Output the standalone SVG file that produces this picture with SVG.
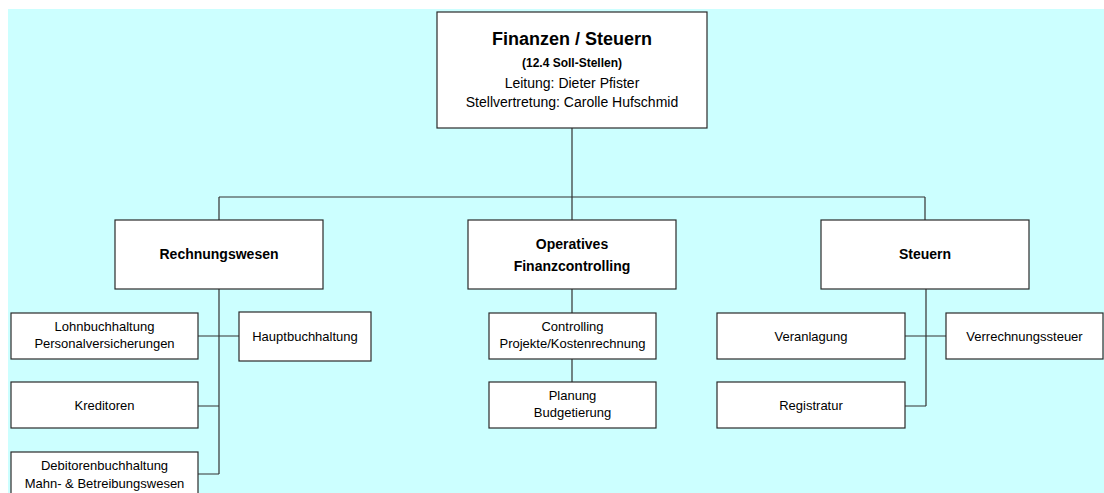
<svg xmlns="http://www.w3.org/2000/svg" width="1104" height="493" viewBox="0 0 1104 493">
<style>
.box{fill:#fff;stroke:#2a2a2a;stroke-width:1.2}
.ln{fill:none;stroke:#333;stroke-width:1.2}
text{font-family:"Liberation Sans",Arial,sans-serif;fill:#000;text-anchor:middle}
.t1{font-size:18px;font-weight:bold}
.t2{font-size:12px;font-weight:bold}
.t3{font-size:14px}
.b{font-size:14px;font-weight:bold}
.s{font-size:13px}
</style>
<rect x="8" y="9" width="1096" height="484" fill="#CCFFFF"/>
<g id="connectors">
<path class="ln" d="M572,128V197M219,197H925M219,197V220M572,197V220M925,197V220"/>
<path class="ln" d="M219,289V474M198,336H239M198,406H219M198,474H219"/>
<path class="ln" d="M572,289V313M572,359V382"/>
<path class="ln" d="M926,289V406M905,336H946M905,406H926"/>
</g>
<g id="n_finanzen">
<rect class="box" x="437" y="12" width="270" height="116"/>
<text class="t1" x="572" y="45">Finanzen / Steuern</text>
<text class="t2" x="572" y="67">(12.4 Soll-Stellen)</text>
<text class="t3" x="572" y="88">Leitung: Dieter Pfister</text>
<text class="t3" x="572" y="107">Stellvertretung: Carolle Hufschmid</text>
</g>
<g id="n_rechnungswesen">
<rect class="box" x="115" y="220" width="208" height="69"/>
<text class="b" x="219" y="259">Rechnungswesen</text>
</g>
<g id="n_operatives">
<rect class="box" x="468" y="220" width="208" height="69"/>
<text class="b" x="572" y="249">Operatives</text>
<text class="b" x="572" y="271">Finanzcontrolling</text>
</g>
<g id="n_steuern">
<rect class="box" x="821" y="220" width="208" height="69"/>
<text class="b" x="925" y="259">Steuern</text>
</g>
<g id="n_lohn">
<rect class="box" x="11" y="313" width="187" height="46"/>
<text class="s" x="104.5" y="331">Lohnbuchhaltung</text>
<text class="s" x="104.5" y="348">Personalversicherungen</text>
</g>
<g id="n_haupt">
<rect class="box" x="239" y="312" width="132" height="49"/>
<text class="s" x="305" y="341">Hauptbuchhaltung</text>
</g>
<g id="n_kreditoren">
<rect class="box" x="11" y="382" width="187" height="46"/>
<text class="s" x="104.5" y="410">Kreditoren</text>
</g>
<g id="n_debitoren">
<rect class="box" x="11" y="452" width="187" height="46"/>
<text class="s" x="104.5" y="470">Debitorenbuchhaltung</text>
<text class="s" x="104.5" y="488">Mahn- &amp; Betreibungswesen</text>
</g>
<g id="n_controlling">
<rect class="box" x="489" y="313" width="167" height="46"/>
<text class="s" x="572.5" y="331">Controlling</text>
<text class="s" x="572.5" y="348">Projekte/Kostenrechnung</text>
</g>
<g id="n_planung">
<rect class="box" x="489" y="382" width="167" height="46"/>
<text class="s" x="572.5" y="400">Planung</text>
<text class="s" x="572.5" y="417">Budgetierung</text>
</g>
<g id="n_veranlagung">
<rect class="box" x="717" y="313" width="188" height="46"/>
<text class="s" x="811" y="341">Veranlagung</text>
</g>
<g id="n_verrechnung">
<rect class="box" x="946" y="313" width="157" height="46"/>
<text class="s" x="1024.5" y="341">Verrechnungssteuer</text>
</g>
<g id="n_registratur">
<rect class="box" x="717" y="382" width="188" height="46"/>
<text class="s" x="811" y="410">Registratur</text>
</g>
</svg>
